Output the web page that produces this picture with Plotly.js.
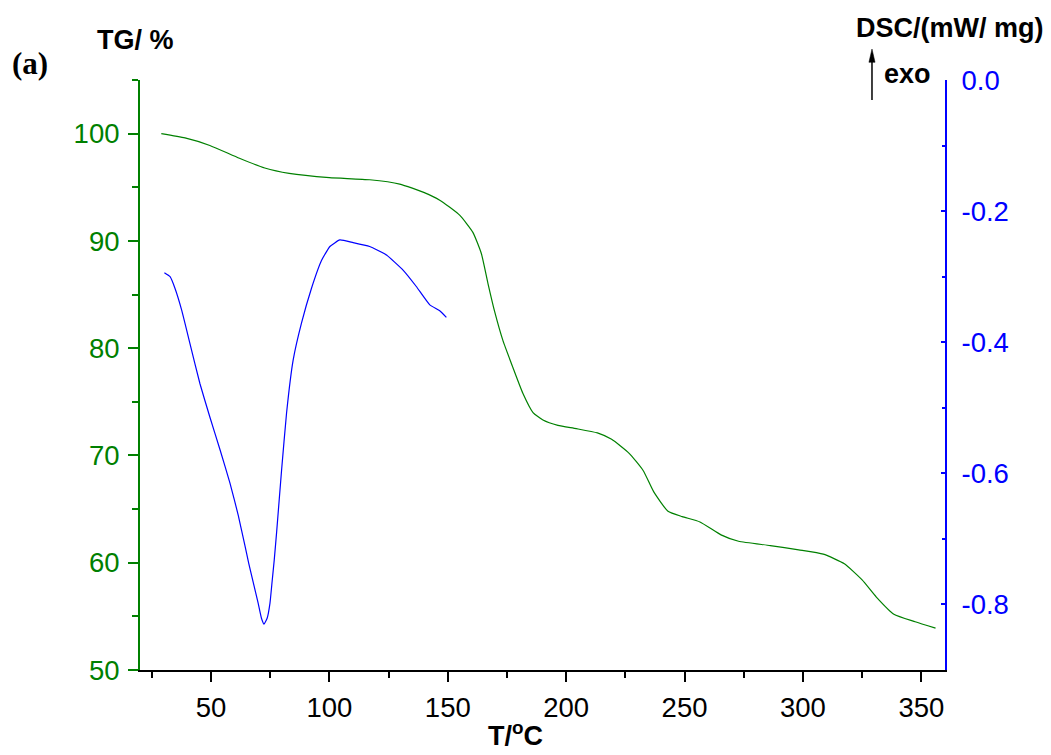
<!DOCTYPE html>
<html>
<head>
<meta charset="utf-8">
<script src="https://cdn.plot.ly/plotly-3.0.1.min.js"></script>
<style>html,body{margin:0;padding:0;background:#fff;}#chart{width:1051px;height:755px;}</style>
</head>
<body>
<div id="chart"></div>
<script>
// TG curve (temperature in °C, mass in %)
const tgTemp = [29, 39, 49.5, 62, 72.7, 83, 100, 117, 129.7, 140.1, 146.6, 155.0, 160.6, 164.2, 167.0, 169.8, 173.3, 177.5, 181.7, 186.0, 190.2, 196.5, 204.3, 213.2, 219.2, 226.6, 232.5, 237, 243, 249, 256.5, 265.4, 272.8, 286.2, 298.2, 308.6, 317.5, 325, 331, 338.4, 347.4, 356];
const tgMass = [100, 99.6, 98.9, 97.7, 96.8, 96.3, 95.9, 95.7, 95.3, 94.5, 93.8, 92.4, 90.8, 88.8, 86.0, 83.4, 80.7, 78.2, 75.8, 74.0, 73.3, 72.8, 72.5, 72.1, 71.5, 70.2, 68.6, 66.6, 64.8, 64.3, 63.8, 62.6, 62.0, 61.6, 61.2, 60.8, 59.9, 58.4, 56.8, 55.2, 54.5, 53.9];

// DSC curve (temperature in °C, heat flow in mW/mg)
const dscTemp = [30.3, 32.7, 34.8, 37.6, 41.1, 45.3, 49.5, 53.8, 58.0, 61.5, 64.3, 65.9, 67.8, 69.9, 71.3, 72.4, 73.7, 74.9, 75.8, 76.7, 77.7, 79.8, 81.9, 84.7, 88.2, 92.4, 96.7, 100.2, 104.4, 110.0, 117.0, 124.1, 131.1, 136.7, 142.4, 146.6, 149.4];
const dscFlow = [-0.294, -0.300, -0.318, -0.351, -0.402, -0.463, -0.514, -0.564, -0.615, -0.664, -0.710, -0.737, -0.766, -0.798, -0.821, -0.830, -0.821, -0.798, -0.765, -0.732, -0.690, -0.595, -0.508, -0.427, -0.371, -0.318, -0.275, -0.254, -0.244, -0.248, -0.254, -0.267, -0.290, -0.315, -0.343, -0.352, -0.362];

// tick labels
const dscTickVals = [0, -0.2, -0.4, -0.6, -0.8];
const dscTickText = ['0.0', '-0.2', '-0.4', '-0.6', '-0.8'];

const GREEN = 'rgb(0,128,0)';
const BLUE = 'rgb(0,0,255)';
const SANS = 'Liberation Sans, Arial, sans-serif';
const TICK = 27.5;

const traces = [
  {x: tgTemp, y: tgMass, type: 'scatter', mode: 'lines', line: {color: GREEN, width: 1.2, shape: 'spline', smoothing: 0.5}, yaxis: 'y', hoverinfo: 'skip'},
  {x: dscTemp, y: dscFlow, type: 'scatter', mode: 'lines', line: {color: BLUE, width: 1.2, shape: 'spline', smoothing: 0.4}, yaxis: 'y2', hoverinfo: 'skip'}
];

// arrow ("exo" direction) position in paper coords
const arrowX = 0.9093;

const layout = {
  width: 1051, height: 755,
  margin: {l: 140, r: 106, t: 80, b: 85},
  paper_bgcolor: '#fff', plot_bgcolor: '#fff',
  showlegend: false,
  font: {family: SANS, size: 26, color: '#000'},
  xaxis: {
    range: [20, 360], tick0: 0, dtick: 50,
    showline: true, linecolor: '#000', linewidth: 2,
    ticks: 'outside', ticklen: 10, tickwidth: 2, tickcolor: '#000',
    minor: {dtick: 25, tick0: 0, ticks: 'outside', ticklen: 6, tickwidth: 2, tickcolor: '#000'},
    showgrid: false, zeroline: false, ticklabelstandoff: 2,
    tickfont: {family: SANS, size: TICK, color: '#000'}
  },
  yaxis: {
    range: [50, 105], tick0: 0, dtick: 10,
    showline: true, linecolor: GREEN, linewidth: 2,
    ticks: 'outside', ticklen: 10, tickwidth: 2, tickcolor: GREEN,
    minor: {dtick: 5, tick0: 0, ticks: 'outside', ticklen: 6, tickwidth: 2, tickcolor: GREEN},
    showgrid: false, zeroline: false, ticklabelstandoff: 3,
    tickfont: {family: SANS, size: TICK, color: GREEN}
  },
  yaxis2: {
    range: [-0.9, 0], overlaying: 'y', side: 'right', anchor: 'x',
    tickmode: 'array', tickvals: dscTickVals, ticktext: dscTickText,
    showline: true, linecolor: BLUE, linewidth: 2,
    ticks: 'inside', ticklen: 4, tickwidth: 2, tickcolor: BLUE,
    minor: {tickmode: 'linear', tick0: 0, dtick: 0.1, ticks: 'inside', ticklen: 3, tickwidth: 2, tickcolor: BLUE},
    showgrid: false, zeroline: false, ticklabelstandoff: 9,
    tickfont: {family: SANS, size: TICK, color: BLUE}
  },
  shapes: [
    {type: 'line', xref: 'paper', yref: 'paper', x0: arrowX, x1: arrowX, y0: 0.9661, y1: 1.035, line: {color: '#000', width: 1.5}},
    {type: 'path', xref: 'paper', yref: 'paper', path: 'M 0.9055 1.030 L 0.9093 1.0525 L 0.9131 1.030 Z', fillcolor: '#000', line: {color: '#000', width: 0.5}}
  ],
  annotations: [
    {text: '<b>(a)</b>', xref: 'paper', yref: 'paper', x: -0.1366, y: 1.028, showarrow: false, xanchor: 'center', yanchor: 'middle', font: {family: 'Liberation Serif, Times New Roman, serif', size: 31, color: '#000'}},
    {text: '<b>TG/ %</b>', xref: 'paper', yref: 'paper', x: -0.0062, y: 1.0678, showarrow: false, xanchor: 'center', yanchor: 'middle', font: {family: SANS, size: 27, color: '#000'}},
    {text: '<b>DSC/(mW/ mg)</b>', xref: 'paper', yref: 'paper', x: 1.005, y: 1.088, showarrow: false, xanchor: 'center', yanchor: 'middle', font: {family: SANS, size: 27, color: '#000'}},
    {text: '<b>exo</b>', xref: 'paper', yref: 'paper', x: 0.9528, y: 1.01, showarrow: false, xanchor: 'center', yanchor: 'middle', font: {family: SANS, size: 27, color: '#000'}},
    {text: '<b>T/<sup>o</sup>C</b>', xref: 'paper', yref: 'paper', x: 0.467, y: -0.1415, showarrow: false, xanchor: 'center', yanchor: 'bottom', font: {family: SANS, size: 27, color: '#000'}}
  ]
};

Plotly.newPlot('chart', traces, layout, {staticPlot: true, displayModeBar: false});
</script>
</body>
</html>
